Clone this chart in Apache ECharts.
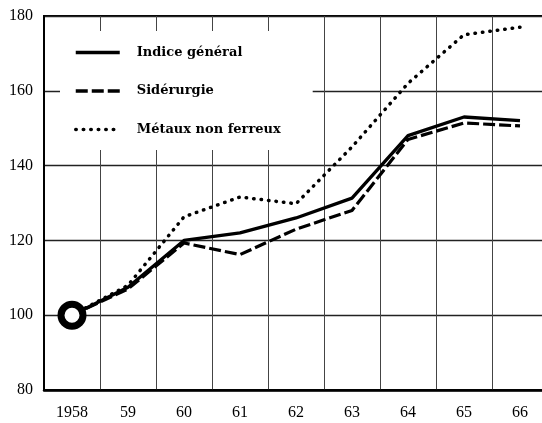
<!DOCTYPE html>
<html>
<head>
<meta charset="utf-8">
<script src="https://cdn.jsdelivr.net/npm/echarts@6/dist/echarts.min.js"></script>
<style>html,body{margin:0;padding:0;background:#fff}#c{width:542px;height:423px}</style>
</head>
<body>
<div id="c"></div>
<script>
var years = ['1958','59','60','61','62','63','64','65','66'];
var indiceGeneral = [100, 107.5, 120, 122, 126, 131.3, 148, 153, 152];
var siderurgie = [100, 107, 119.3, 116.2, 123, 128, 147, 151.4, 150.6];
var metauxNonFerreux = [100, 108, 126.3, 131.6, 129.8, 145, 162, 175, 177];
var yTicks = [80, 100, 120, 140, 160, 180];
var baseYear = [[0, 100]];

var chart = echarts.init(document.getElementById('c'), null, {renderer: 'canvas'});
var serif = '"Liberation Serif", "DejaVu Serif", serif';
chart.setOption({
  animation: false,
  backgroundColor: '#fff',
  grid: {left: 44, width: 504, top: 16, height: 374, outerBoundsMode: 'none', containLabel: false,
         show: true, borderColor: '#000', borderWidth: 2},
  legend: {
    data: ['Indice général', 'Sidérurgie', 'Métaux non ferreux'],
    orient: 'vertical',
    left: 60, top: 31,
    padding: [15, 32, 14, 14],
    backgroundColor: '#fff',
    itemWidth: 44, itemHeight: 14, itemGap: 25.5,
    itemStyle: {color: 'rgba(0,0,0,0)', borderWidth: 0, opacity: 0},
    lineStyle: {width: 3.5},
    textStyle: {fontFamily: '"DejaVu Serif", serif', fontWeight: 'bold', fontSize: 13, color: '#000', padding: [0, 0, 0, 12]}
  },
  xAxis: {
    type: 'category', data: years, boundaryGap: true,
    axisLine: {show: true, lineStyle: {color: '#000', width: 2.5}},
    axisTick: {show: false},
    splitLine: {show: true, interval: 0, lineStyle: {color: '#444', width: 1}},
    axisLabel: {interval: 0, margin: 15, fontFamily: serif, fontSize: 16, color: '#000'}
  },
  yAxis: {
    type: 'value', min: yTicks[0], max: yTicks[yTicks.length - 1], interval: 20,
    axisLine: {show: true, lineStyle: {color: '#000', width: 2}},
    axisTick: {show: false},
    splitLine: {show: true, lineStyle: {color: '#222', width: 1.3}},
    axisLabel: {margin: 11, fontFamily: serif, fontSize: 16, color: '#000'}
  },
  series: [
    {name: 'Métaux non ferreux', type: 'line', data: metauxNonFerreux, symbol: 'none',
     lineStyle: {color: '#000', width: 3.5, type: [0.5, 7], cap: 'round'}, itemStyle: {color: '#000'}},
    {name: 'Sidérurgie', type: 'line', data: siderurgie, symbol: 'none',
     lineStyle: {color: '#000', width: 3.2, type: [12, 4]}, itemStyle: {color: '#000'}},
    {name: 'Indice général', type: 'line', data: indiceGeneral, symbol: 'none',
     lineStyle: {color: '#000', width: 3.3}, itemStyle: {color: '#000'}},
    {name: 'base', type: 'scatter', data: baseYear, symbol: 'circle', symbolSize: 22, z: 5,
     itemStyle: {color: '#fff', borderColor: '#000', borderWidth: 7, opacity: 1}}
  ]
});
</script>
</body>
</html>
